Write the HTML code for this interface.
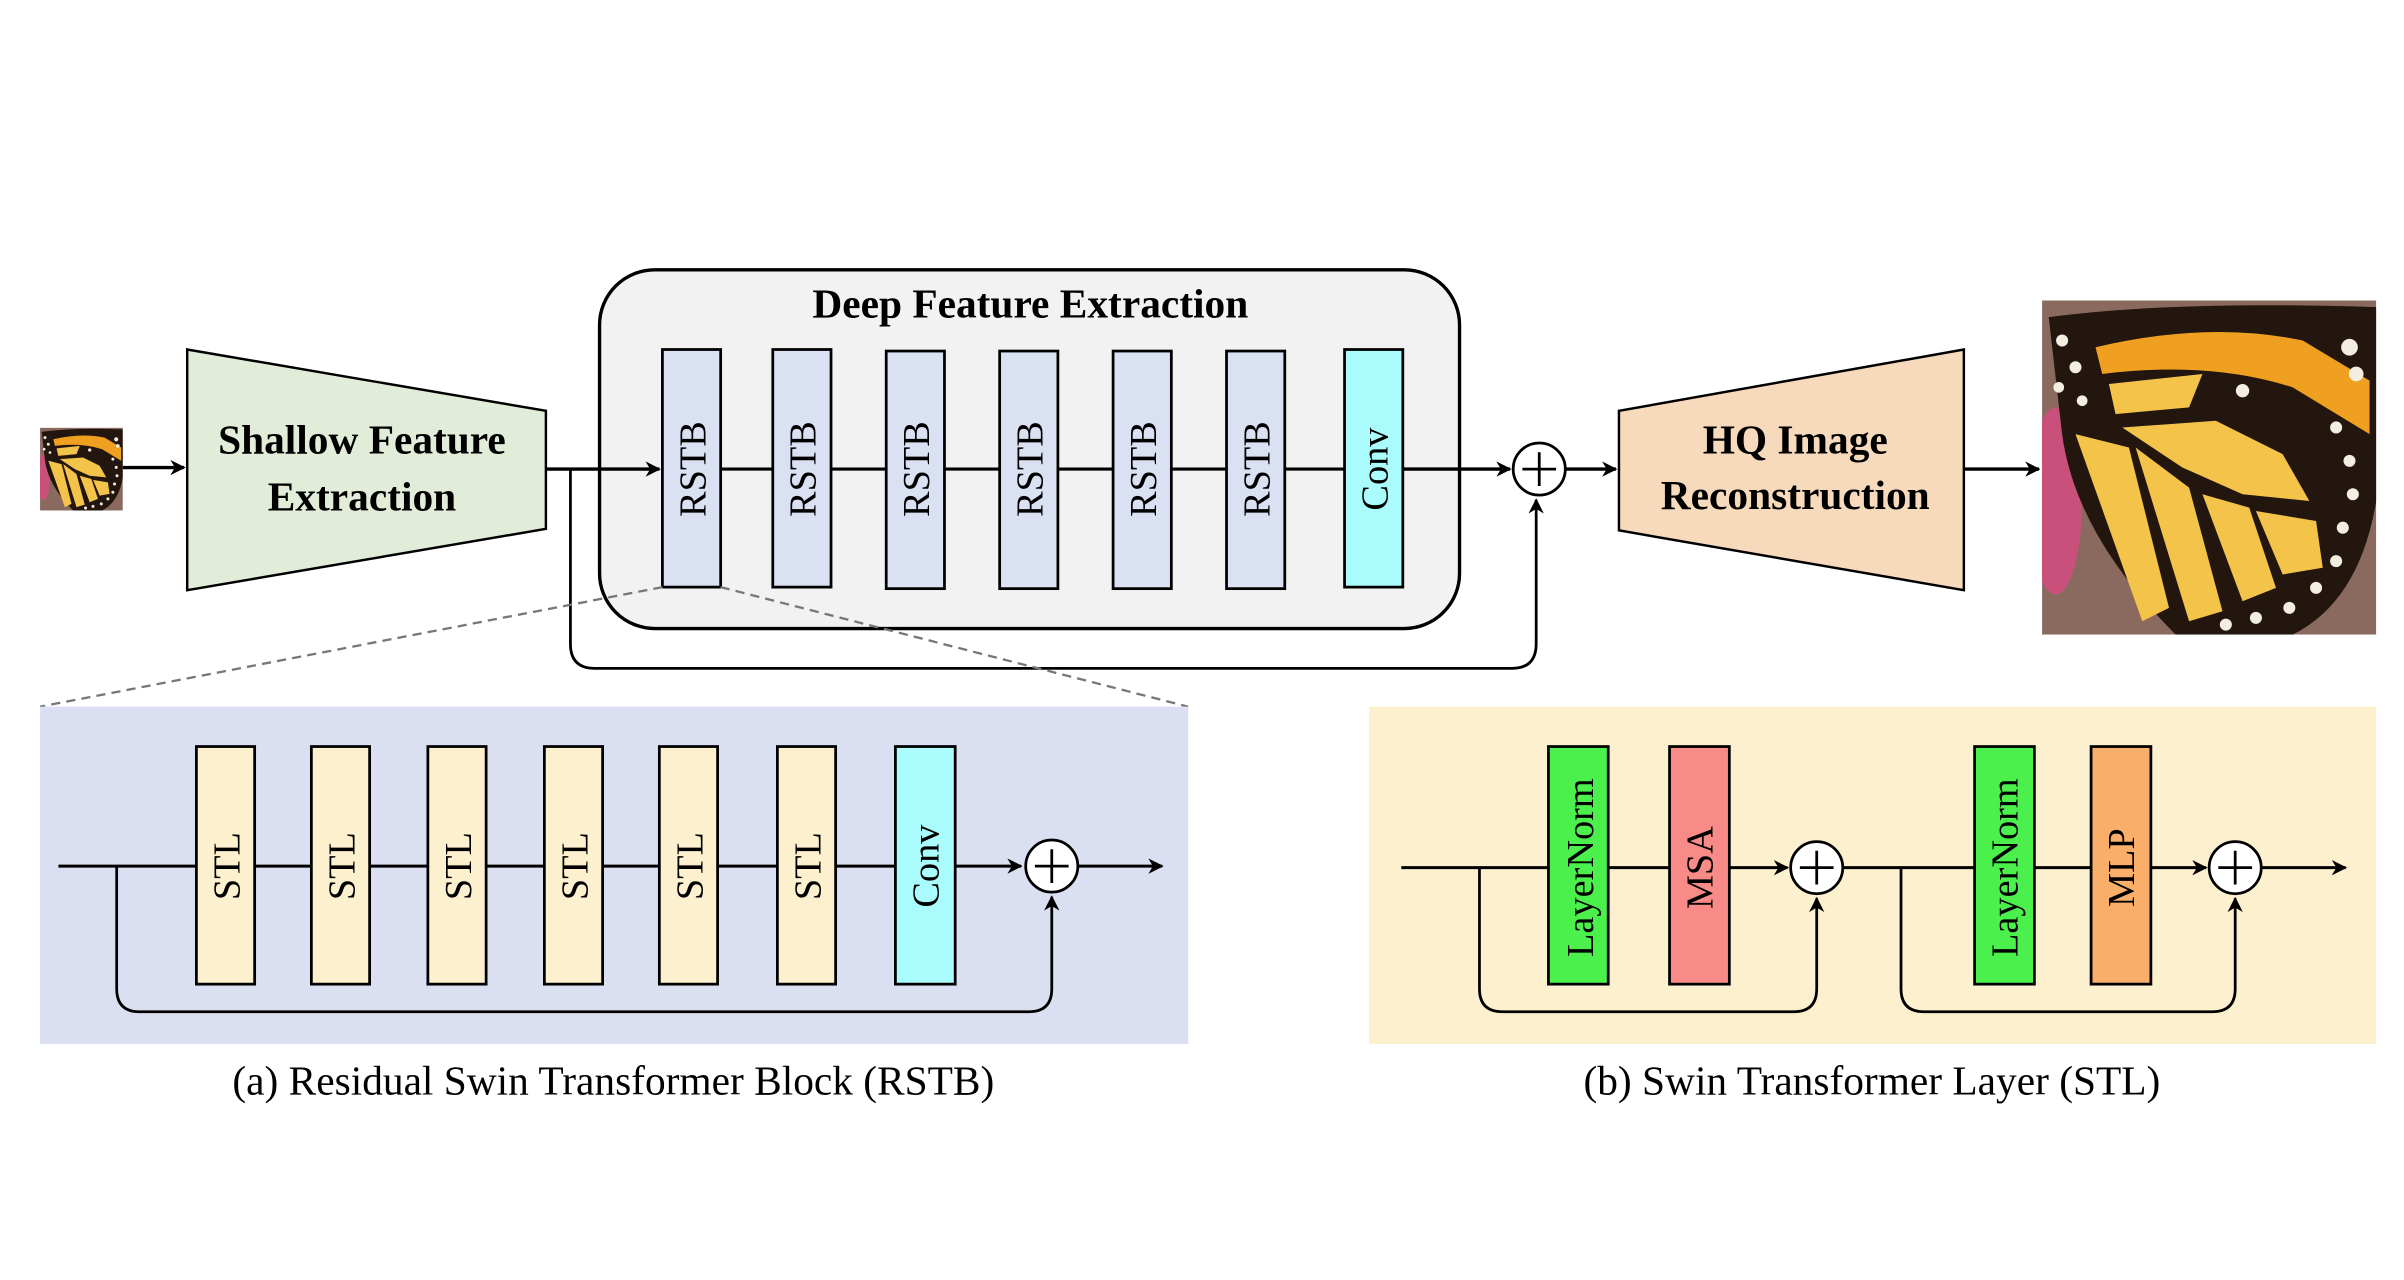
<!DOCTYPE html>
<html><head><meta charset="utf-8"><style>
html,body{margin:0;padding:0;background:#fff;}
svg{display:block;}
svg text{font-family:"Liberation Serif","Times New Roman",Times,serif !important;fill:#000;}
.b{font-weight:bold;font-size:27px;}
.r{font-size:25px;}
.cap{font-size:27px;}
</style></head><body>
<svg width="2404" height="1280" viewBox="0 0 1568 835" xmlns="http://www.w3.org/2000/svg" font-family="Liberation Serif, serif">
<defs>
<marker id="ar" markerWidth="10" markerHeight="10" refX="9" refY="5" orient="auto" markerUnits="userSpaceOnUse">
<path d="M0,0 L10,5 L0,10 L3,5 z" fill="#000"/></marker>
<g id="bf">
<rect x="0" y="0" width="100" height="100" fill="#8a6a5e"/>
<ellipse cx="4" cy="60" rx="8" ry="28" fill="#c8507a"/>
<path d="M2,5 Q40,0 100,2 L100,60 Q95,90 75,100 L40,100 Q10,70 6,40 Z" fill="#22160e"/>
<path d="M16,14 Q50,6 78,12 L98,24 L98,40 L75,26 Q50,18 18,22 Z" fill="#f0a020"/>
<path d="M20,25 L48,22 L44,32 L22,34 Z" fill="#f3c34a"/>
<path d="M24,38 L52,36 L72,46 L80,60 L60,58 L42,50 Z" fill="#f3c34a"/>
<path d="M10,40 L26,44 L38,92 L30,96 Z" fill="#f3c34a"/>
<path d="M28,44 L44,56 L54,93 L44,96 Z" fill="#f3c34a"/>
<path d="M48,58 L62,62 L70,86 L60,90 Z" fill="#f3c34a"/>
<path d="M64,63 L82,66 L84,80 L72,82 Z" fill="#f3c34a"/>
<g fill="#f4eee0">
<circle cx="6" cy="12" r="1.8"/><circle cx="10" cy="20" r="1.8"/><circle cx="5" cy="26" r="1.6"/><circle cx="12" cy="30" r="1.6"/>
<circle cx="92" cy="14" r="2.5"/><circle cx="94" cy="22" r="2.2"/><circle cx="88" cy="38" r="1.8"/>
<circle cx="92" cy="48" r="1.8"/><circle cx="93" cy="58" r="1.8"/><circle cx="90" cy="68" r="1.8"/>
<circle cx="88" cy="78" r="1.8"/><circle cx="82" cy="86" r="1.8"/><circle cx="74" cy="92" r="1.8"/>
<circle cx="64" cy="95" r="1.8"/><circle cx="55" cy="97" r="1.8"/><circle cx="60" cy="27" r="2"/>
</g>
</g>
</defs>

<svg x="26" y="279" width="54" height="54" viewBox="0 0 100 100" preserveAspectRatio="none"><use href="#bf"/></svg>
<line x1="80" y1="305" x2="120" y2="305" stroke="#000" stroke-width="2.2" marker-end="url(#ar)"/>

<polygon points="122,228 356,268 356,345 122,385" fill="#e2edd9" stroke="#000" stroke-width="1.6"/>
<text class="b" x="236" y="296" text-anchor="middle" font-family="Liberation Serif, serif">Shallow Feature</text>
<text class="b" x="236" y="333" text-anchor="middle" font-family="Liberation Serif, serif">Extraction</text>

<rect x="391" y="176" width="561" height="234" rx="36" fill="#f2f2f2" stroke="#000" stroke-width="2.2"/>
<text class="b" x="672" y="207" text-anchor="middle" font-family="Liberation Serif, serif">Deep Feature Extraction</text>

<line x1="356" y1="306" x2="430" y2="306" stroke="#000" stroke-width="2.2" marker-end="url(#ar)"/>
<line x1="470" y1="306" x2="877" y2="306" stroke="#000" stroke-width="2"/>
<g stroke="#000" stroke-width="1.8" fill="#dae1f2">
<rect x="432" y="228" width="38" height="155"/>
<rect x="504" y="228" width="38" height="155"/>
<rect x="578" y="229" width="38" height="155"/>
<rect x="652" y="229" width="38" height="155"/>
<rect x="726" y="229" width="38" height="155"/>
<rect x="800" y="229" width="38" height="155"/>
<rect x="877" y="228" width="38" height="155" fill="#aafcfc"/>
</g>
<g class="r" font-family="Liberation Serif, serif">
<text transform="translate(460,306) rotate(-90)" text-anchor="middle">RSTB</text>
<text transform="translate(532,306) rotate(-90)" text-anchor="middle">RSTB</text>
<text transform="translate(606,306) rotate(-90)" text-anchor="middle">RSTB</text>
<text transform="translate(680,306) rotate(-90)" text-anchor="middle">RSTB</text>
<text transform="translate(754,306) rotate(-90)" text-anchor="middle">RSTB</text>
<text transform="translate(828,306) rotate(-90)" text-anchor="middle">RSTB</text>
<text transform="translate(905,306) rotate(-90)" text-anchor="middle">Conv</text>
</g>
<line x1="915" y1="306" x2="985" y2="306" stroke="#000" stroke-width="2.2" marker-end="url(#ar)"/>
<path d="M372,306 L372,420 Q372,436 388,436 L986,436 Q1002,436 1002,420 L1002,326" fill="none" stroke="#000" stroke-width="1.8" marker-end="url(#ar)"/>
<circle cx="1004" cy="306" r="17" fill="#fff" stroke="#000" stroke-width="1.8"/>
<path d="M993,306 H1015 M1004,295 V317" stroke="#000" stroke-width="1.8"/>
<line x1="1021" y1="306" x2="1054" y2="306" stroke="#000" stroke-width="2.2" marker-end="url(#ar)"/>

<polygon points="1056,268 1281,228 1281,385 1056,346" fill="#f7d9bb" stroke="#000" stroke-width="1.6"/>
<text class="b" x="1171" y="296" text-anchor="middle" font-family="Liberation Serif, serif">HQ Image</text>
<text class="b" x="1171" y="332" text-anchor="middle" font-family="Liberation Serif, serif">Reconstruction</text>
<line x1="1281" y1="306" x2="1330" y2="306" stroke="#000" stroke-width="2.2" marker-end="url(#ar)"/>
<svg x="1332" y="196" width="218" height="218" viewBox="0 0 100 100" preserveAspectRatio="none"><use href="#bf"/></svg>

<line x1="432" y1="383" x2="26" y2="461" stroke="#777" stroke-width="1.5" stroke-dasharray="6,4"/>
<line x1="470" y1="383" x2="775" y2="461" stroke="#777" stroke-width="1.5" stroke-dasharray="6,4"/>

<rect x="26" y="461" width="749" height="220" fill="#dae0f1"/>
<line x1="38" y1="565" x2="666" y2="565" stroke="#000" stroke-width="2" marker-end="url(#ar)"/>
<g stroke="#000" stroke-width="1.8" fill="#fdf0cf">
<rect x="128" y="487" width="38" height="155"/>
<rect x="203" y="487" width="38" height="155"/>
<rect x="279" y="487" width="38" height="155"/>
<rect x="355" y="487" width="38" height="155"/>
<rect x="430" y="487" width="38" height="155"/>
<rect x="507" y="487" width="38" height="155"/>
<rect x="584" y="487" width="39" height="155" fill="#aafcfc"/>
</g>
<g class="r" font-family="Liberation Serif, serif">
<text transform="translate(156,565) rotate(-90)" text-anchor="middle">STL</text>
<text transform="translate(231,565) rotate(-90)" text-anchor="middle">STL</text>
<text transform="translate(307,565) rotate(-90)" text-anchor="middle">STL</text>
<text transform="translate(383,565) rotate(-90)" text-anchor="middle">STL</text>
<text transform="translate(458,565) rotate(-90)" text-anchor="middle">STL</text>
<text transform="translate(535,565) rotate(-90)" text-anchor="middle">STL</text>
<text transform="translate(612,565) rotate(-90)" text-anchor="middle">Conv</text>
</g>
<path d="M76,565 L76,645 Q76,660 91,660 L671,660 Q686,660 686,645 L686,585" fill="none" stroke="#000" stroke-width="1.8" marker-end="url(#ar)"/>
<circle cx="686" cy="565" r="17" fill="#fff" stroke="#000" stroke-width="1.8"/>
<path d="M675,565 H697 M686,554 V576" stroke="#000" stroke-width="1.8"/>
<line x1="703" y1="565" x2="758" y2="565" stroke="#000" stroke-width="2" marker-end="url(#ar)"/>
<text class="cap" x="400" y="714" text-anchor="middle" font-family="Liberation Serif, serif">(a) Residual Swin Transformer Block (RSTB)</text>

<rect x="893" y="461" width="657" height="220" fill="#fdf0cf"/>
<line x1="914" y1="566" x2="1166" y2="566" stroke="#000" stroke-width="2" marker-end="url(#ar)"/>
<line x1="1202" y1="566" x2="1439" y2="566" stroke="#000" stroke-width="2" marker-end="url(#ar)"/>
<line x1="1475" y1="566" x2="1530" y2="566" stroke="#000" stroke-width="2" marker-end="url(#ar)"/>
<g stroke="#000" stroke-width="1.8">
<rect x="1010" y="487" width="39" height="155" fill="#4cf04c"/>
<rect x="1089" y="487" width="39" height="155" fill="#f88a88"/>
<rect x="1288" y="487" width="39" height="155" fill="#4cf04c"/>
<rect x="1364" y="487" width="39" height="155" fill="#f9ae6a"/>
</g>
<g class="r" font-family="Liberation Serif, serif">
<text transform="translate(1039,566) rotate(-90)" text-anchor="middle">LayerNorm</text>
<text transform="translate(1117,566) rotate(-90)" text-anchor="middle">MSA</text>
<text transform="translate(1316,566) rotate(-90)" text-anchor="middle">LayerNorm</text>
<text transform="translate(1392,566) rotate(-90)" text-anchor="middle">MLP</text>
</g>
<path d="M965,566 L965,645 Q965,660 980,660 L1170,660 Q1185,660 1185,645 L1185,586" fill="none" stroke="#000" stroke-width="1.8" marker-end="url(#ar)"/>
<path d="M1240,566 L1240,645 Q1240,660 1255,660 L1443,660 Q1458,660 1458,645 L1458,586" fill="none" stroke="#000" stroke-width="1.8" marker-end="url(#ar)"/>
<circle cx="1185" cy="566" r="17" fill="#fff" stroke="#000" stroke-width="1.8"/>
<path d="M1174,566 H1196 M1185,555 V577" stroke="#000" stroke-width="1.8"/>
<circle cx="1458" cy="566" r="17" fill="#fff" stroke="#000" stroke-width="1.8"/>
<path d="M1447,566 H1469 M1458,555 V577" stroke="#000" stroke-width="1.8"/>
<text class="cap" x="1221" y="714" text-anchor="middle" font-family="Liberation Serif, serif">(b) Swin Transformer Layer (STL)</text>
</svg>
</body></html>
